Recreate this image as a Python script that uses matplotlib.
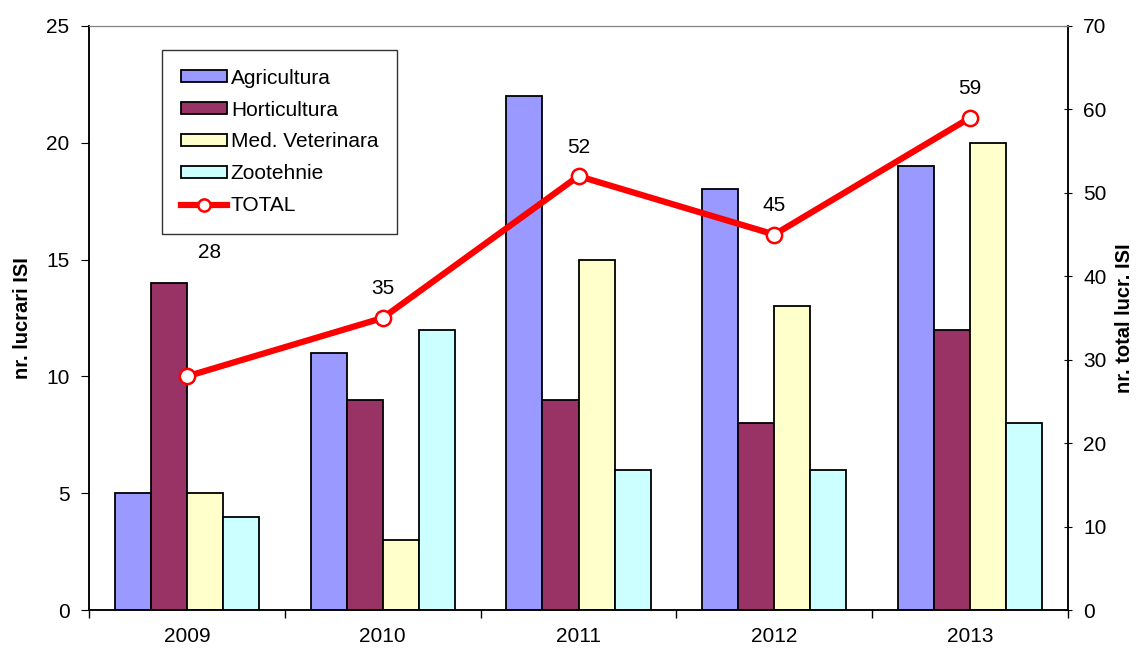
import numpy as np
import matplotlib.pyplot as plt

plt.rcParams['font.family'] = ['Liberation Sans', 'DejaVu Sans']

years = ['2009', '2010', '2011', '2012', '2013']
agricultura = [5, 11, 22, 18, 19]
horticultura = [14, 9, 9, 8, 12]
med_veterinara = [5, 3, 15, 13, 20]
zootehnie = [4, 12, 6, 6, 8]
total = [28, 35, 52, 45, 59]

series = [('Agricultura', agricultura, '#9999FF'),
          ('Horticultura', horticultura, '#993366'),
          ('Med. Veterinara', med_veterinara, '#FFFFCC'),
          ('Zootehnie', zootehnie, '#CCFFFF')]

fig = plt.figure(figsize=(11.45, 6.48), dpi=100)
ax = fig.add_axes([0.0777, 0.0586, 0.8551, 0.9014])
ax2 = ax.twinx()

x = np.arange(len(years))
w = 0.184
handles = []
for i, (name, vals, col) in enumerate(series):
    b = ax.bar(x + (i - 1.5) * w, vals, w, color=col, edgecolor='black',
               linewidth=1.3, label=name, zorder=2)
    handles.append(b)

ln, = ax2.plot(x, total, color='#FF0000', lw=4.5, marker='o', ms=11,
               mfc='white', mec='#FF0000', mew=1.8, label='TOTAL', zorder=3)
handles.append(ln)

# data labels above the total line (first one pushed up, off the bar)
for i, v in enumerate(total):
    off = (23, 124) if i == 0 else (0, 29)
    ax2.annotate(str(v), (x[i], v), xytext=off, textcoords='offset pixels',
                 ha='center', va='center', fontsize=15)

ax.set_xlim(-0.5, len(years) - 0.5)
ax.set_ylim(0, 25)
ax2.set_ylim(0, 70)
ax.set_yticks(range(0, 26, 5))
ax2.set_yticks(range(0, 71, 10))
ax.set_xticks(x)
ax.set_xticklabels(years)
ax.set_xticks(np.arange(-0.5, len(years), 1), minor=True)
ax.tick_params(axis='x', which='major', length=0, pad=12, labelsize=15)
ax.tick_params(axis='x', which='minor', length=6, direction='out', width=1)
ax.tick_params(axis='y', length=6, direction='out', labelsize=15, pad=8)
ax2.tick_params(axis='y', length=6, direction='inout', labelsize=15, pad=8)

for a in (ax, ax2):
    a.spines['top'].set_color('#808080')
    for s in ('left', 'right', 'bottom'):
        a.spines[s].set_color('black')
        a.spines[s].set_linewidth(1.1)

ax.set_ylabel('nr. lucrari ISI', fontsize=14.5, fontweight='bold', labelpad=10)
ax2.set_ylabel('nr. total lucr. ISI', fontsize=14.5, fontweight='bold', labelpad=6)

leg = ax.legend(handles=handles, loc='upper left', bbox_to_anchor=(0.0746, 0.959),
                borderaxespad=0, fontsize=15, frameon=True, fancybox=False,
                edgecolor='black', handlelength=2.2, handleheight=0.5,
                labelspacing=0.62, handletextpad=0.2, borderpad=0.9,
                markerscale=0.8)
leg.get_frame().set_linewidth(1.0)
leg.set_zorder(5)

fig.savefig('out.png', dpi=100)
